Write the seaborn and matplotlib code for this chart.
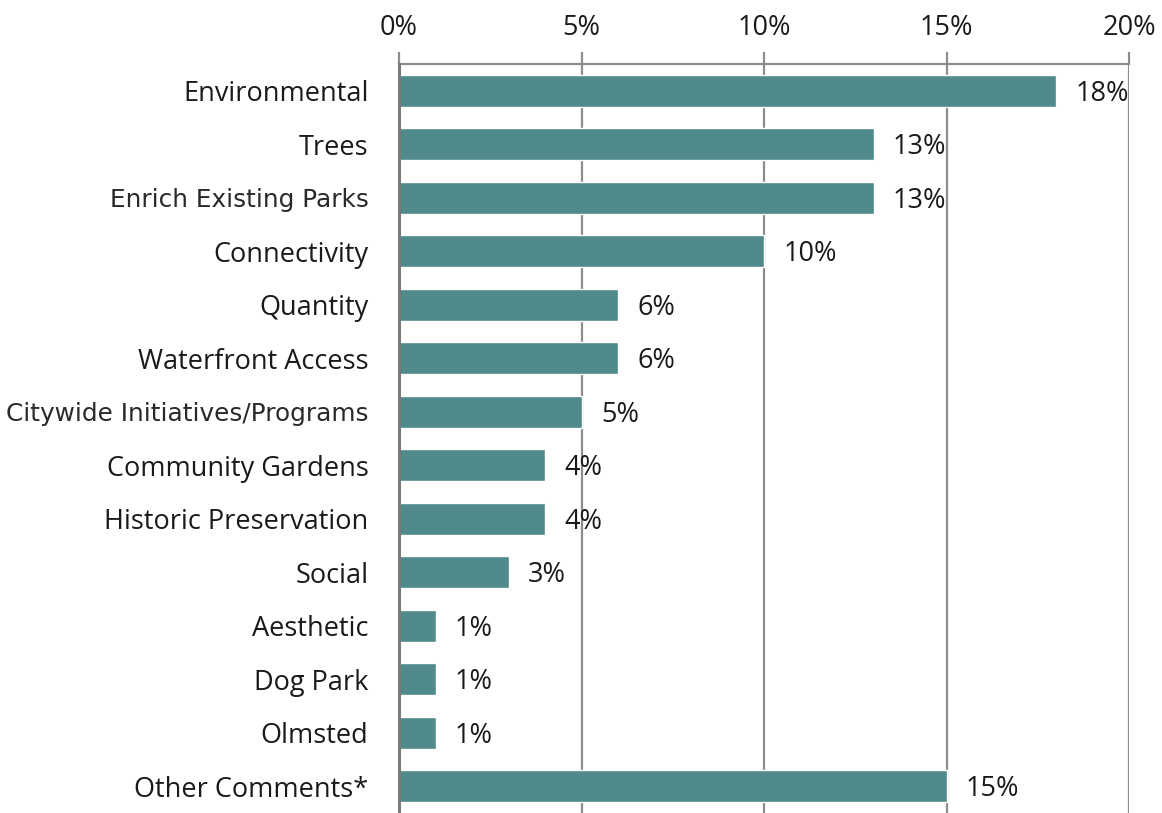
import pandas as pd
import matplotlib.pyplot as plt
import seaborn as sns

# data
categories = ["Environmental", "Trees", "Enrich Existing Parks", "Connectivity",
              "Quantity", "Waterfront Access", "Citywide Initiatives/Programs",
              "Community Gardens", "Historic Preservation", "Social", "Aesthetic",
              "Dog Park", "Olmsted", "Other Comments*"]
values = [18, 13, 13, 10, 6, 6, 5, 4, 4, 3, 1, 1, 1, 15]
x_ticks = [0, 5, 10, 15, 20]
x_tick_labels = ["0%", "5%", "10%", "15%", "20%"]

# these two labels use a different (wider) font in the original
odd_labels = ["Enrich Existing Parks", "Citywide Initiatives/Programs"]

df = pd.DataFrame({"Category": categories, "Share": values})

sns.set_style("white")
plt.rcParams['font.family'] = ['Open Sans', 'DejaVu Sans']

fig = plt.figure(figsize=(11.62, 8.13), dpi=100)
ax = fig.add_axes([0.3434, 0.0, 0.9716 - 0.3434, 0.9213])

sns.barplot(data=df, x="Share", y="Category", color="#508a8a", saturation=1,
            width=0.6, ax=ax, zorder=3)

ax.set_xlim(0, 20)
ax.set_ylim(len(categories) - 0.5, -0.5)
ax.set_xticks(x_ticks)
ax.set_xticklabels(x_tick_labels)
ax.xaxis.tick_top()
ax.set_xlabel("")
ax.set_ylabel("")

ax.grid(axis="x", color="#8c8c8c", linewidth=1.6, zorder=0)
ax.grid(axis="y", visible=False)
ax.tick_params(axis="x", which="both", direction="out", length=9, width=1.6,
               color="#8c8c8c", labelsize=19.5, labelcolor="#1a1a1a", pad=7)
ax.tick_params(axis="y", length=0, labelsize=19.5, labelcolor="#1a1a1a", pad=22)

for s in ["right", "bottom"]:
    ax.spines[s].set_visible(False)
ax.spines["top"].set_color("#8c8c8c")
ax.spines["top"].set_linewidth(1.6)
ax.spines["left"].set_color("#7a7a7a")
ax.spines["left"].set_linewidth(2.2)
ax.spines["left"].set_zorder(4)

for lbl in ax.get_yticklabels():
    if lbl.get_text() in odd_labels:
        lbl.set_fontfamily(["DejaVu Sans"])
        lbl.set_fontsize(17.8)
        lbl.set_color("#2a2a2a")

for i, v in enumerate(values):
    ax.annotate(f"{v}%", xy=(v, i), xytext=(14, -2), textcoords="offset points",
                ha="left", va="center", fontsize=19.5, color="#1a1a1a")

plt.savefig("out.png", dpi=100)
plt.close()
